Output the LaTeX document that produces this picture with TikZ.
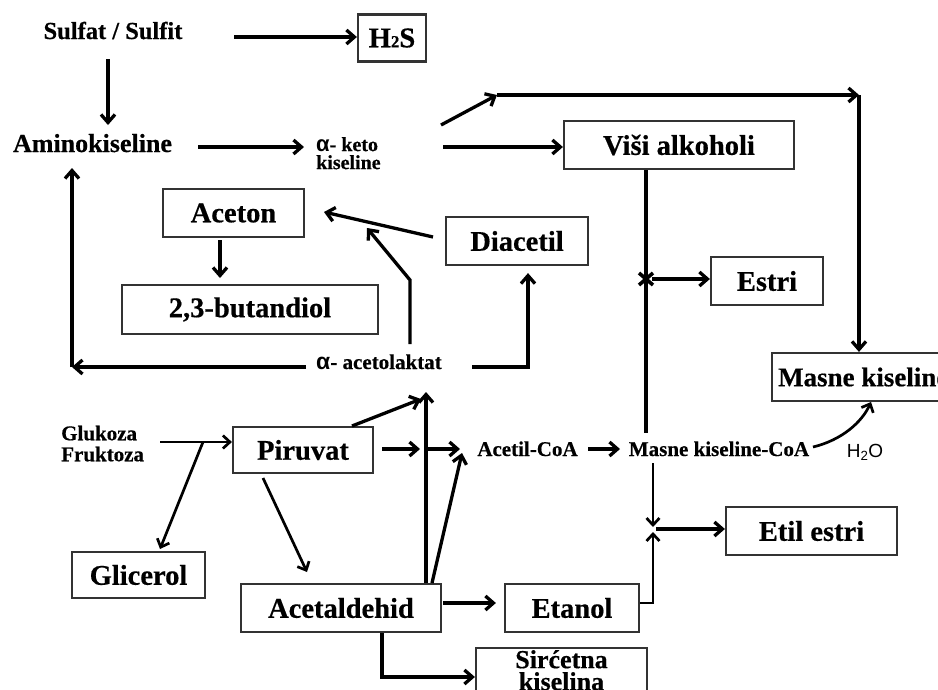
\documentclass[tikz,border=0pt]{standalone}
\usepackage{fontspec}
\setmainfont{Liberation Serif}[BoldFeatures={FakeBold=0.5}]
\newfontfamily\sansf{Liberation Sans}
\usetikzlibrary{arrows.meta}
\begin{document}
\begin{tikzpicture}[x=1pt,y=-1pt,
  box/.style={draw=black!80, line width=2.2pt, fill=white, inner sep=0pt,
    font=\fontsize{28.5}{30}\selectfont\bfseries},
  arr/.style={line width=3.3pt, -{Straight Barb[length=8pt,width=14pt]}},
  thinarr/.style={line width=2.7pt, -{Straight Barb[length=7pt,width=13pt]}},
  ln/.style={line width=3.3pt},
  lbl/.style={inner sep=0pt, font=\fontsize{21}{21}\selectfont\bfseries},
]
\path[use as bounding box, clip] (0,0) rectangle (938,689);
\fill[white] (0,0) rectangle (938,689);

% ---------- nodes ----------
\node[lbl, font=\fontsize{24.5}{25}\selectfont\bfseries, anchor=base] (sulfat) at (113,39) {Sulfat / Sulfit};
\node[box, minimum width=68pt, minimum height=47pt] (h2s) at (392,38) {H{\fontsize{17}{17}\selectfont 2}S};
\node[lbl, font=\fontsize{26}{26}\selectfont\bfseries, anchor=base] (amino) at (92.5,152) {Aminokiseline};
\node[lbl, font=\fontsize{20}{18}\selectfont\bfseries, align=left, anchor=north west] (keto) at (316,137) {{\sansf\fontsize{22}{18}\selectfont α}- keto\\kiseline};
\node[box, minimum width=230pt, minimum height=48pt] (visi) at (679,145) {Viši alkoholi};
\node[box, minimum width=141pt, minimum height=48pt] (aceton) at (233.5,213) {Aceton};
\node[box, minimum width=142pt, minimum height=48pt] (diacetil) at (517,241) {Diacetil};
\node[box, minimum width=256pt, minimum height=49pt] (butandiol) at (250,309.5) {2,3-butandiol};
\node[box, minimum width=112pt, minimum height=48pt] (estri) at (767,281) {Estri};
\node[box, anchor=west, inner xsep=6pt, minimum height=48pt,
  font=\fontsize{27}{28}\selectfont\bfseries] (masne) at (771,377) {Masne kiseline};
\node[lbl, anchor=base west] (acetolaktat) at (316,369) {{\sansf\fontsize{23}{21}\selectfont α}- acetolaktat};
\node[lbl, align=left, anchor=north west] (gluk) at (61,425.5) {Glukoza\\Fruktoza};
\node[box, minimum width=140pt, minimum height=46pt] (piruvat) at (303,450) {Piruvat};
\node[lbl, anchor=base] (acetilcoa) at (527.5,456) {Acetil-CoA};
\node[lbl, anchor=base] (mkcoa) at (719,456) {Masne kiseline-CoA};
\node[inner sep=0pt, font=\sansf\fontsize{19}{19}\selectfont, anchor=base] (h2o) at (865,457) {H\textsubscript{2}O};
\node[box, minimum width=133pt, minimum height=46pt] (glicerol) at (138.5,575) {Glicerol};
\node[box, minimum width=200pt, minimum height=48pt] (acetald) at (341,608) {Acetaldehid};
\node[box, minimum width=134pt, minimum height=48pt] (etanol) at (572,608) {Etanol};
\node[box, minimum width=171pt, minimum height=48pt] (etil) at (811.5,531) {Etil estri};
\node[box, minimum width=171pt, anchor=north, inner ysep=2pt, align=center,
  font=\fontsize{26}{22}\selectfont\bfseries] (sirc) at (561.5,647) {Sirćetna\\kiselina};

% ---------- coordinates ----------
\coordinate (s0) at (234,37);
\coordinate (s1) at (108,59);
\coordinate (s2) at (108,125);
\coordinate (a1) at (198,147);
\coordinate (a2) at (304,147);
\coordinate (k1) at (443,147);
\coordinate (k2) at (441,125);
\coordinate (t1) at (497,95);
\coordinate (t2) at (859,95);
\coordinate (v1) at (646,433);
\coordinate (xm) at (646,279);
\coordinate (d1) at (433,237);
\coordinate (d2) at (324,212);
\coordinate (al1) at (410,344);
\coordinate (al2) at (410,280);
\coordinate (al3) at (367,228);
\coordinate (al4) at (472,367);
\coordinate (al5) at (528,367);
\coordinate (al6) at (306,367);
\coordinate (al7) at (72,367);
\coordinate (al8) at (72,168);
\coordinate (ab1) at (220,240);
\coordinate (ab2) at (220,278);
\coordinate (g1) at (160,442);
\coordinate (g2) at (203,442);
\coordinate (g3) at (160,549);
\coordinate (p1) at (263,478);
\coordinate (p2) at (307,572);
\coordinate (p3) at (352,426);
\coordinate (p4) at (421,399);
\coordinate (p5) at (382,449);
\coordinate (p6) at (420,449);
\coordinate (p7) at (428,449);
\coordinate (p8) at (460,449);
\coordinate (q1) at (426,392);
\coordinate (q2) at (432,583);
\coordinate (q3) at (462,453);
\coordinate (e1) at (443,603);
\coordinate (e2) at (653,603);
\coordinate (c1) at (382,677);
\coordinate (m1) at (588,449);
\coordinate (m2) at (620,449);
\coordinate (mk1) at (653,463);
\coordinate (j1) at (653,527);
\coordinate (j2) at (653,532);
\coordinate (j3) at (656,529);
\coordinate (cv1) at (813,447);
\coordinate (cv2) at (871,402);

% ---------- connectors ----------
\draw[arr] (s0) -- (s0 -| h2s.west);
\draw[arr] (s1) -- (s2);
\draw[arr] (a1) -- (a2);
\draw[arr] (k1) -- (k1 -| visi.west);
\draw[arr] (k2) -- (t1);
\draw[arr] (t1) -- (t2);
\draw[arr] (t2) -- (t2 |- masne.north);
\draw[ln] (visi.south -| v1) -- (v1);
\draw[line width=3.6pt] (xm) ++(-7,-6) -- ++(14,12);
\draw[line width=3.6pt] (xm) ++(-7,6) -- ++(14,-12);
\draw[arr] ([xshift=6pt]xm) -- (xm -| estri.west);
\draw[arr] (d1) -- (d2);
\draw[arr] (al1) -- (al2) -- (al3);
\draw[arr, shorten >=7pt] (al4) -- (al5) -- (al5 |- diacetil.south);
\draw[arr] (al6) -- (al7);
\draw[arr] (al7) -- (al8);
\draw[arr] (ab1) -- (ab2);
\draw[thinarr] (g1) -- (g1 -| piruvat.west);
\draw[thinarr] (g2) -- (g3);
\draw[thinarr] (p1) -- (p2);
\draw[arr] (p3) -- (p4);
\draw[arr] (p5) -- (p6);
\draw[arr] (p7) -- (p8);
\draw[arr] (q1 |- acetald.north) -- (q1);
\draw[arr] (q2) -- (q3);
\draw[arr, shorten >=8pt] (e1) -- (e1 -| etanol.west);
\draw[arr] (acetald.south -| c1) -- (c1) -- (c1 -| sirc.west);
\draw[arr] (m1) -- (m2);
\draw[thinarr] (mk1) -- (j1);
\draw[thinarr] (etanol.east |- e2) -- (e2) -- (j2);
\draw[arr] (j3) -- (j3 -| etil.west);
\draw[thinarr] (cv1) .. controls (842,440) and (862,422) .. (cv2);
\end{tikzpicture}
\end{document}
